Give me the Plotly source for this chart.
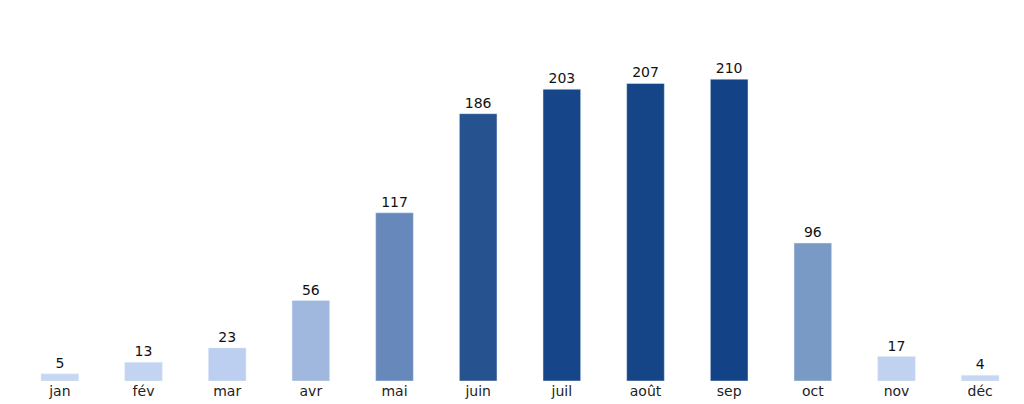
import plotly.graph_objects as go

months = ["jan", "fév", "mar", "avr", "mai", "juin", "juil", "août", "sep", "oct", "nov", "déc"]
values = [5, 13, 23, 56, 117, 186, 203, 207, 210, 96, 17, 4]
colors = ["#c6d7f3", "#c2d4f2", "#bccff0", "#a0b8de", "#6688bb", "#26528f",
          "#17458a", "#154487", "#134286", "#7a9ac6", "#c0d2f0", "#c6d7f3"]

fig = go.Figure(go.Bar(
    x=months, y=values, marker_color=colors, width=0.45,
    text=values, textposition="outside", cliponaxis=False,
    textfont=dict(size=14, color="#111111"),
))

fig.update_layout(
    width=1024, height=404,
    margin=dict(l=10, r=10, t=28, b=31),
    paper_bgcolor="white", plot_bgcolor="white",
    font=dict(family="DejaVu Sans", size=14, color="#222222"),
    showlegend=False,
    uniformtext=dict(mode=False),
)
fig.update_xaxes(showline=False, ticks="", showgrid=False, range=[-0.5, 11.5])
fig.update_yaxes(visible=False, range=[0, 210 * 302 / 302 * 373 / 302 * 345 / 373 * 1.0 / 1.0 if False else 240])

fig.write_html("out.html")
